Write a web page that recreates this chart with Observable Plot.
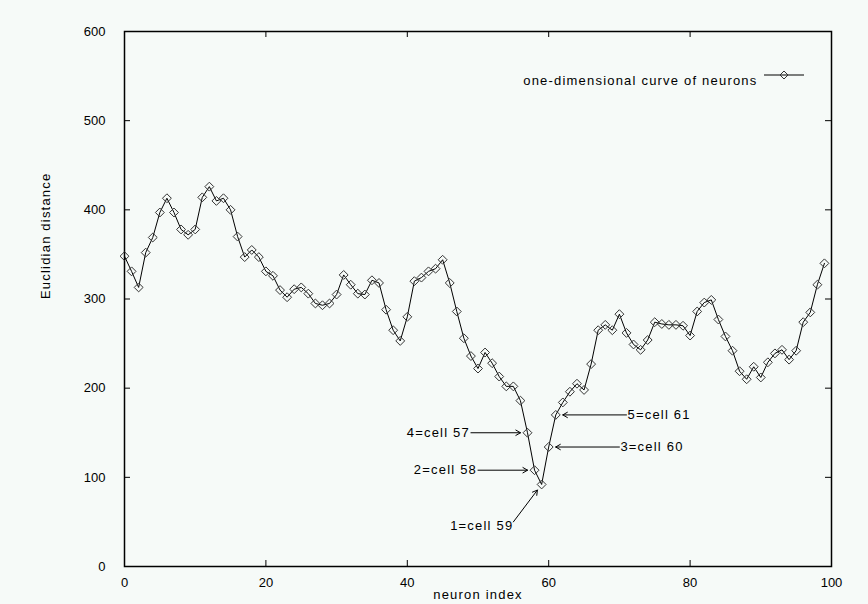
<!DOCTYPE html>
<html>
<head>
<meta charset="utf-8">
<script src="https://cdn.jsdelivr.net/npm/d3@7"></script>
<script src="https://cdn.jsdelivr.net/npm/@observablehq/plot@0.6"></script>
<style>
  html, body { margin: 0; padding: 0; background: #f6faf8; }
  #chart svg { display: block; }
</style>
</head>
<body>
<div id="chart"></div>
<script>
// ---- data ----
const distances = [348,331,313,352,369,397,413,397,378,372,
                   378,414,426,410,413,400,370,347,355,347,
                   331,326,310,302,311,313,306,295,293,295,
                   305,327,316,306,305,321,318,288,265,253,
                   280,320,324,331,334,344,318,286,256,236,
                   222,240,228,213,202,202,186,150,108,92,
                   134,170,184,196,205,198,227,265,271,265,
                   283,262,249,243,254,274,272,271,271,270,
                   259,286,296,299,277,258,242,219,210,224,
                   212,229,239,243,232,242,274,285,316,340];
const xTicks = [0, 20, 40, 60, 80, 100];
const yTicks = [0, 100, 200, 300, 400, 500, 600];
const annCells  = [59, 58, 60, 57, 61];
const annLabels = ["1=cell 59", "2=cell 58", "3=cell 60", "4=cell 57", "5=cell 61"];
const annSide   = ["below", "left", "right", "left", "right"];
const annDx     = [-4, -8, 10, -8, 10];
const annDy     = [-42, 0, 0, 0, 0];
const legendLabel = "one-dimensional curve of neurons";
const xLabel = "neuron index";
const yLabel = "Euclidian distance";

// ---- build tables ----
const data = distances.map((v, i) => ({index: i, value: v}));
const ann = annCells.map((c, i) => ({
  cell: c, value: distances[c], label: annLabels[i], side: annSide[i],
  x1: c + annDx[i], y1: distances[c] + annDy[i]
}));
const annLeft = ann.filter(d => d.side === "left");
const annRight = ann.filter(d => d.side === "right");
const annBelow = ann.filter(d => d.side === "below");

const W = 868, H = 604, mL = 124, mR = 37, mT = 31, mB = 38;
const iW = W - mL - mR, iH = H - mT - mB, tk = 6;

const legendMark = (index, scales, values, dim) => {
  const g = d3.create("svg:g");
  const x0 = dim.width - dim.marginRight - 67;
  const y = dim.marginTop + 44;
  g.append("line").attr("x1", x0).attr("x2", x0 + 40).attr("y1", y).attr("y2", y)
    .attr("stroke", "black").attr("stroke-width", 1);
  g.append("path").attr("d", "M0,-4L4,0L0,4L-4,0Z")
    .attr("transform", `translate(${x0 + 20},${y})`)
    .attr("fill", "none").attr("stroke", "#333").attr("stroke-width", 1);
  return g.node();
};

const chart = Plot.plot({
  width: W, height: H,
  marginLeft: mL, marginRight: mR, marginTop: mT, marginBottom: mB,
  style: {fontFamily: "'Liberation Sans', Arial, sans-serif", fontSize: "13px", background: "#f6faf8", color: "black"},
  x: {domain: [0, 100]},
  y: {domain: [0, 600]},
  marks: [
    Plot.axisX({ticks: xTicks, tickSize: 0, tickPadding: 11, label: null, fontSize: 13}),
    Plot.axisY({ticks: yTicks, tickSize: 0, tickPadding: 19, label: null, fontSize: 13}),
    Plot.tickX(xTicks, {x: d => d, insetTop: iH - tk, stroke: "black"}),
    Plot.tickX(xTicks, {x: d => d, insetBottom: iH - tk, stroke: "black"}),
    Plot.tickY(yTicks, {y: d => d, insetRight: iW - tk, stroke: "black"}),
    Plot.tickY(yTicks, {y: d => d, insetLeft: iW - tk, stroke: "black"}),
    Plot.frame({stroke: "black", strokeWidth: 1.5}),
    Plot.line(data, {x: "index", y: "value", stroke: "black", strokeWidth: 1}),
    Plot.dot(data, {x: "index", y: "value", symbol: "diamond2", r: 4, stroke: "#333", fill: "none", strokeWidth: 1}),
    Plot.arrow(ann, {x1: "x1", y1: "y1", x2: "cell", y2: "value", insetEnd: 7, headLength: 8, stroke: "black", strokeWidth: 1}),
    Plot.text(annLeft, {x: "x1", y: "y1", text: "label", textAnchor: "end", dx: -1, fontSize: 13}),
    Plot.text(annBelow, {x: "x1", y: "y1", text: "label", textAnchor: "end", dx: 0, dy: 4, fontSize: 13}),
    Plot.text(annRight, {x: "x1", y: "y1", text: "label", textAnchor: "start", dx: 1, fontSize: 13}),
    Plot.text([legendLabel], {frameAnchor: "top-right", dx: -74, dy: 44, textAnchor: "end", fontSize: 13}),
    Plot.text([xLabel], {frameAnchor: "bottom", dy: 32, fontSize: 13}),
    Plot.text([yLabel], {frameAnchor: "left", dx: -79, rotate: -90, fontSize: 13}),
    legendMark
  ]
});
document.getElementById("chart").appendChild(chart);
chart.querySelectorAll('g[aria-label="text"] text').forEach(t => t.setAttribute("letter-spacing", "1.2"));
</script>
</body>
</html>
